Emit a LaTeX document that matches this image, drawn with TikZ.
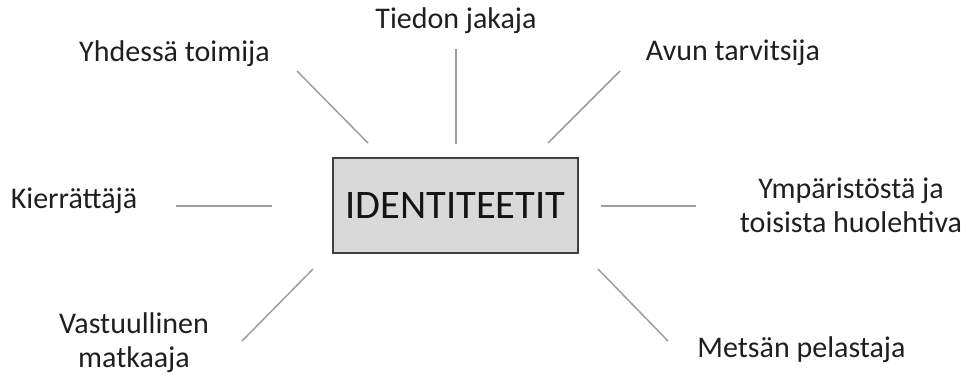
\documentclass[tikz,border=0pt]{standalone}
\usepackage{fontspec}
\setmainfont{Carlito}
\begin{document}
\begin{tikzpicture}[x=1pt,y=-1pt,
  lbl/.style={inner sep=0pt,anchor=base,text=black!88,font=\fontsize{30}{34}\selectfont,align=center},
  conn/.style={draw=black!38,line width=1.5pt},
  centerbox/.style={draw=black!75,fill=black!15,line width=1.6pt,minimum width=245pt,minimum height=95pt,inner sep=0pt,font=\fontsize{40.5}{48}\selectfont,text=black!92}]
\useasboundingbox (0,0) rectangle (966,376);
\node[centerbox] (c) at (455.5,205.5) {IDENTITEETIT};
\node[lbl] (t1) at (456,28) {Tiedon jakaja};
\node[lbl] (t2) at (174.5,61) {Yhdessä toimija};
\node[lbl] (t3) at (733,60) {Avun tarvitsija};
\node[lbl] (t4) at (74,208) {Kierrättäjä};
\node[lbl] (t5) at (851,232) {Ympäristöstä ja\\toisista huolehtiva};
\node[lbl] (t6) at (134,367) {Vastuullinen\\matkaaja};
\node[lbl] (t7) at (801.5,357) {Metsän pelastaja};
\coordinate (a1) at (456,49); \coordinate (b1) at (456,144);
\coordinate (a2) at (297,71); \coordinate (b2) at (368,143);
\coordinate (a3) at (620,71); \coordinate (b3) at (548,143);
\coordinate (a4) at (176,206); \coordinate (b4) at (272,206);
\coordinate (a5) at (696,206); \coordinate (b5) at (601,206);
\coordinate (a6) at (242,341); \coordinate (b6) at (313,269);
\coordinate (a7) at (668,341); \coordinate (b7) at (598,269);
\foreach \i in {1,...,7} {\draw[conn] (a\i) -- (b\i);}
\end{tikzpicture}
\end{document}
